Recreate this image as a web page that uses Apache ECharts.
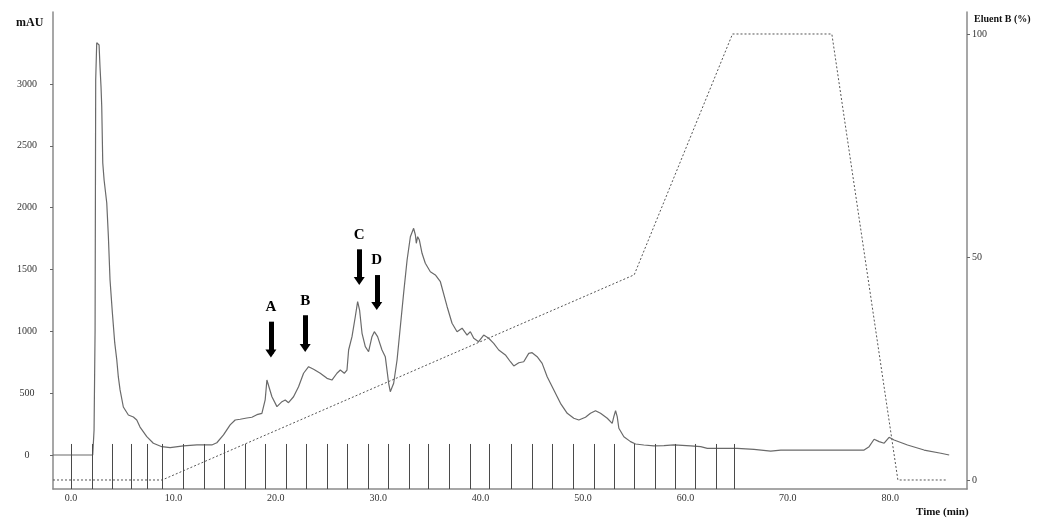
<!DOCTYPE html>
<html>
<head>
<meta charset="utf-8">
<script src="https://cdn.jsdelivr.net/npm/echarts@6/dist/echarts.min.js"></script>
<style>
  html, body { margin: 0; padding: 0; background: #fff; }
  #chart { width: 1038px; height: 519px; }
</style>
</head>
<body>
<div id="chart"></div>
<script>
// chromatogram trace (time in min, absorbance in mAU)
var traceTime = [-1.76, 2.12, 2.25, 2.35, 2.41, 2.51, 2.74, 2.83, 2.93, 3.00, 3.10, 3.23, 3.49, 3.65, 3.81, 4.04, 4.27, 4.47, 4.62, 4.79,
  5.11, 5.60, 6.09, 6.42, 6.74, 7.40, 8.04, 8.87, 9.68, 10.98, 12.29, 13.75, 14.24, 14.89, 15.54, 16.03, 16.52, 17.17, 17.66, 18.15,
  18.64, 18.96, 19.13, 19.26, 19.62, 20.11, 20.60, 20.92, 21.24, 21.73, 22.22, 22.71, 23.20, 23.69, 24.34, 25.00, 25.48, 25.97, 26.30, 26.69,
  26.95, 27.11, 27.44, 27.76, 27.99, 28.18, 28.42, 28.74, 29.06, 29.39, 29.62, 29.94, 30.37, 30.69, 31.02, 31.18, 31.51, 31.84, 32.16, 32.48,
  32.82, 33.14, 33.46, 33.63, 33.72, 33.85, 34.02, 34.28, 34.60, 35.09, 35.58, 36.07, 36.73, 37.21, 37.70, 38.19, 38.68, 39.00, 39.33, 39.81,
  40.30, 40.79, 41.28, 41.77, 42.42, 42.91, 43.24, 43.73, 44.21, 44.70, 45.03, 45.52, 46.01, 46.50, 47.15, 47.80, 48.46, 49.10, 49.59, 50.24,
  50.73, 51.22, 51.71, 52.37, 52.85, 53.01, 53.18, 53.34, 53.50, 53.99, 54.64, 55.13, 55.94, 56.92, 57.90, 58.88, 60.51, 61.49, 62.14, 65.07,
  66.70, 68.33, 69.31, 71.26, 77.45, 77.94, 78.43, 78.92, 79.41, 79.89, 80.38, 81.69, 83.31, 84.95, 85.76];
var traceMAU = [0, 0, 202, 1011, 3032, 3334, 3315, 3140, 2978, 2816, 2361, 2224, 2038, 1763, 1415, 1148, 906, 768, 631, 526,
  388, 323, 307, 283, 226, 148, 95, 67, 59, 73, 81, 81, 99, 162, 243, 283, 289, 299, 305, 326,
  337, 445, 606, 590, 471, 391, 431, 445, 423, 471, 552, 661, 714, 693, 661, 620, 606, 661, 687, 661,
  687, 849, 957, 1118, 1240, 1172, 984, 876, 835, 957, 997, 957, 849, 795, 580, 512, 580, 768, 1037, 1307,
  1577, 1765, 1833, 1779, 1712, 1765, 1738, 1631, 1550, 1482, 1456, 1401, 1199, 1065, 997, 1025, 970, 997, 944, 916,
  970, 944, 903, 849, 809, 754, 720, 746, 754, 822, 827, 795, 741, 633, 526, 418, 337, 297, 283, 305,
  337, 358, 337, 297, 256, 310, 358, 310, 216, 148, 108, 89, 81, 73, 75, 81, 73, 67, 54, 54,
  46, 32, 40, 40, 40, 67, 127, 108, 95, 143, 121, 81, 40, 14, 0];

// eluent B gradient (%)
var gradientTime = [-1.76, 8.9, 55.0, 64.6, 74.3, 80.75, 85.5];
var gradientB = [0, 0, 46, 100, 100, 0, 0];

// fraction collector marks (min)
var fractionTimes = [0, 2.05, 4.01, 5.87, 7.40, 8.93, 10.98, 12.97, 14.96, 17.01, 18.96, 21.01, 22.97, 24.98, 26.98, 28.98,
  31.0, 33.0, 34.92, 36.94, 38.94, 40.89, 42.98, 45.03, 46.95, 49.0, 51.06, 53.01, 55.03, 57.02, 58.97, 60.93, 63.02, 64.81];
var fractionTop = 89;

// peak arrows
var arrowLabels = ['A', 'B', 'C', 'D'];
var arrowTime = [19.52, 22.87, 28.15, 29.86];
var arrowTop = [1078, 1130, 1663, 1455];
var arrowEnd = [821, 865, 1407, 1205];

// tick labels
var timeTicks = [0, 10, 20, 30, 40, 50, 60, 70, 80];
var mauTicks = [0, 500, 1000, 1500, 2000, 2500, 3000];
var eluentTicks = [0, 50, 100];

var serif = '"Liberation Serif", "DejaVu Serif", serif';
var yMin = -275, yMax = 3582;

var tracePoints = traceTime.map(function (t, i) { return [t, traceMAU[i]]; });
var gradientPoints = gradientTime.map(function (t, i) { return [t, gradientB[i]]; });
var fractionLines = fractionTimes.map(function (t) {
  return [{ coord: [t, yMin] }, { coord: [t, fractionTop] }];
});
var arrowLines = arrowLabels.map(function (l, i) {
  return [{ coord: [arrowTime[i], arrowTop[i]], name: l }, { coord: [arrowTime[i], arrowEnd[i]] }];
});

var myChart = echarts.init(document.getElementById('chart'));
var option = {
  animation: false,
  grid: { left: 53, right: 71, top: 12, bottom: 30 },
  xAxis: {
    type: 'value',
    min: -1.76,
    max: 87.5,
    splitLine: { show: false },
    axisLine: { onZero: false, lineStyle: { color: '#8a8a8a', width: 1.5 } },
    axisTick: { show: false },
    axisLabel: {
      customValues: timeTicks,
      formatter: function (v) { return v.toFixed(1); },
      fontFamily: serif, fontSize: 10, color: '#333', margin: 4
    }
  },
  yAxis: [{
    type: 'value',
    min: yMin,
    max: yMax,
    position: 'left',
    splitLine: { show: false },
    axisLine: { show: true, onZero: false, lineStyle: { color: '#8a8a8a', width: 1.5 } },
    axisTick: { show: true, customValues: mauTicks, length: 3, lineStyle: { color: '#666' } },
    axisLabel: {
      customValues: mauTicks,
      formatter: function (v) { return String(v); },
      fontFamily: serif, fontSize: 10, color: '#333', margin: 26, align: 'center'
    }
  }, {
    type: 'value',
    min: -2.02,
    max: 104.93,
    position: 'right',
    splitLine: { show: false },
    axisLine: { show: true, onZero: false, lineStyle: { color: '#8a8a8a', width: 1.5 } },
    axisTick: { show: true, customValues: eluentTicks, length: 3, lineStyle: { color: '#666' } },
    axisLabel: {
      customValues: eluentTicks,
      formatter: function (v) { return String(v); },
      fontFamily: serif, fontSize: 10, color: '#333', margin: 5
    }
  }],
  graphic: [
    { type: 'text', left: 16, top: 17, style: { text: 'mAU', font: 'bold 12px ' + serif, fill: '#111' } },
    { type: 'text', left: 974, top: 14, style: { text: 'Eluent B (%)', font: 'bold 10px ' + serif, fill: '#111' } },
    { type: 'text', left: 916, top: 507, style: { text: 'Time (min)', font: 'bold 11px ' + serif, fill: '#111' } }
  ],
  series: [{
    name: 'fractions',
    type: 'line',
    data: [],
    markLine: {
      silent: true,
      symbol: ['none', 'none'],
      label: { show: false },
      lineStyle: { color: '#4a4a4a', width: 1, type: 'solid' },
      data: fractionLines
    }
  }, {
    name: 'Eluent B',
    type: 'line',
    yAxisIndex: 1,
    data: gradientPoints,
    showSymbol: false,
    lineStyle: { color: '#555', width: 1, type: [2, 2] },
    z: 3
  }, {
    name: 'mAU',
    type: 'line',
    data: tracePoints,
    showSymbol: false,
    lineStyle: { color: '#6a6a6a', width: 1.2 },
    z: 4,
    markLine: {
      silent: true,
      symbol: ['none', 'triangle'],
      symbolSize: [11, 8],
      lineStyle: { color: '#000', width: 5, type: 'solid' },
      label: {
        show: true,
        position: 'start',
        distance: 7,
        formatter: '{b}',
        fontFamily: serif, fontWeight: 'bold', fontSize: 15, color: '#000'
      },
      data: arrowLines
    }
  }]
};
myChart.setOption(option);
</script>
</body>
</html>
